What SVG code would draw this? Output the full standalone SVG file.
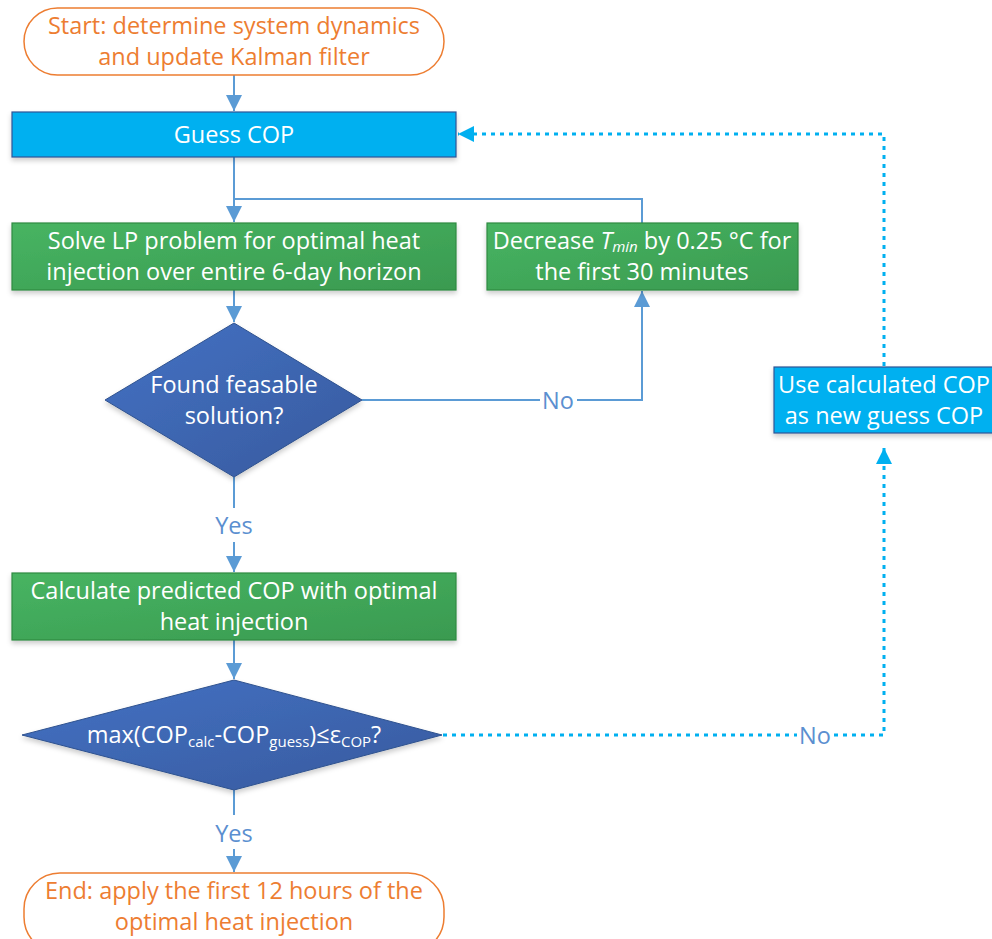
<svg xmlns="http://www.w3.org/2000/svg" width="992" height="939" viewBox="0 0 992 939">
<defs>
<linearGradient id="gG" x1="0" y1="0" x2="1" y2="1"><stop offset="0" stop-color="#47b462"/><stop offset="1" stop-color="#3a9a50"/></linearGradient>
<linearGradient id="gB" x1="0" y1="0" x2="1" y2="1"><stop offset="0" stop-color="#4472c4"/><stop offset="1" stop-color="#375a9e"/></linearGradient>
<filter id="sh" x="-10%" y="-10%" width="120%" height="130%"><feDropShadow dx="0" dy="3" stdDeviation="2.5" flood-color="#000" flood-opacity="0.2"/></filter>
<marker id="ar" viewBox="0 0 10 10" refX="10" refY="5" markerWidth="16" markerHeight="16" markerUnits="userSpaceOnUse" orient="auto"><path d="M0,0 L10,5 L0,10 z" fill="#5b9bd5"/></marker>
<marker id="ac" viewBox="0 0 10 10" refX="10" refY="5" markerWidth="16" markerHeight="16" markerUnits="userSpaceOnUse" orient="auto"><path d="M0,0 L10,5 L0,10 z" fill="#00b0f0"/></marker>
</defs>
<style>
text{font-family:"Open Sans","Liberation Sans",sans-serif;font-size:23.5px;text-anchor:middle}
.w{fill:#fff}
.o{fill:#ed7d31}
.lbl{fill:#5b8fd0}
.term{fill:#fff;stroke:#ed7d31;stroke-width:1.5}
.green{fill:url(#gG);stroke:#2f8a42;stroke-width:1.2;filter:url(#sh)}
.cyan{fill:#00b0f0;stroke:#2f5597;stroke-width:1.2;filter:url(#sh)}
.dia{fill:url(#gB);stroke:#2f528f;stroke-width:1;filter:url(#sh)}
.c{fill:none;stroke:#5b9bd5;stroke-width:2}
.d{fill:none;stroke:#00b0f0;stroke-width:3;stroke-dasharray:4 5}
</style>
<g id="connectors">
<path class="c" d="M234,75 V111" marker-end="url(#ar)"/>
<path class="c" d="M234,157 V222" marker-end="url(#ar)"/>
<path class="c" d="M642,223 V199 H234"/>
<path class="c" d="M234,290 V322" marker-end="url(#ar)"/>
<path class="c" d="M362,400 H540 M577,400 H642 V291" marker-end="url(#ar)"/>
<path class="c" d="M234,477 V508 M234,542 V572" marker-end="url(#ar)"/>
<path class="c" d="M234,640 V679" marker-end="url(#ar)"/>
<path class="c" d="M234,790 V815 M234,849 V872" marker-end="url(#ar)"/>
<path class="d" d="M443,735 H797 M834,735 H884 V448" marker-end="url(#ac)"/>
<path class="d" d="M884,366 V134 H458" marker-end="url(#ac)"/>
<text class="lbl" x="558" y="409">No</text>
<text class="lbl" x="815" y="744">No</text>
<text class="lbl" x="234" y="534">Yes</text>
<text class="lbl" x="234" y="842">Yes</text>
</g>
<g id="start">
<rect class="term" x="24" y="8" width="420" height="67" rx="33.5"/>
<text class="o" x="234" y="34">Start: determine system dynamics</text>
<text class="o" x="234" y="65">and update Kalman filter</text>
</g>
<g id="guess">
<rect class="cyan" x="12" y="112" width="444" height="45"/>
<text class="w" x="234" y="143">Guess COP</text>
</g>
<g id="solve">
<rect class="green" x="12" y="223" width="444" height="67"/>
<text class="w" x="234" y="249">Solve LP problem for optimal heat</text>
<text class="w" x="234" y="280">injection over entire 6-day horizon</text>
</g>
<g id="decrease">
<rect class="green" x="487" y="223" width="311" height="67"/>
<text class="w" x="642" y="249">Decrease <tspan font-style="italic">T<tspan font-size="15" dy="3">min</tspan></tspan><tspan dy="-3"> by 0.25 °C for</tspan></text>
<text class="w" x="642" y="280">the first 30 minutes</text>
</g>
<g id="feasible">
<polygon class="dia" points="234,323 362,400 234,477 105,400"/>
<text class="w" x="234" y="393">Found feasable</text>
<text class="w" x="234" y="424">solution?</text>
</g>
<g id="calculate">
<rect class="green" x="12" y="573" width="444" height="67"/>
<text class="w" x="234" y="599">Calculate predicted COP with optimal</text>
<text class="w" x="234" y="630">heat injection</text>
</g>
<g id="converged">
<polygon class="dia" points="234,680 442,735 234,790 22,735"/>
<text class="w" x="234" y="743">max(COP<tspan font-size="15" dy="4">calc</tspan><tspan dy="-4">-COP</tspan><tspan font-size="15" dy="4">guess</tspan><tspan dy="-4">)≤ε</tspan><tspan font-size="15" dy="4">COP</tspan><tspan dy="-4">?</tspan></text>
</g>
<g id="use">
<rect class="cyan" x="774" y="367" width="222" height="66"/>
<text class="w" x="884" y="393">Use calculated COP</text>
<text class="w" x="884" y="424">as new guess COP</text>
</g>
<g id="end">
<rect class="term" x="24" y="873" width="420" height="80" rx="36"/>
<text class="o" x="234" y="899">End: apply the first 12 hours of the</text>
<text class="o" x="234" y="930">optimal heat injection</text>
</g>
</svg>
